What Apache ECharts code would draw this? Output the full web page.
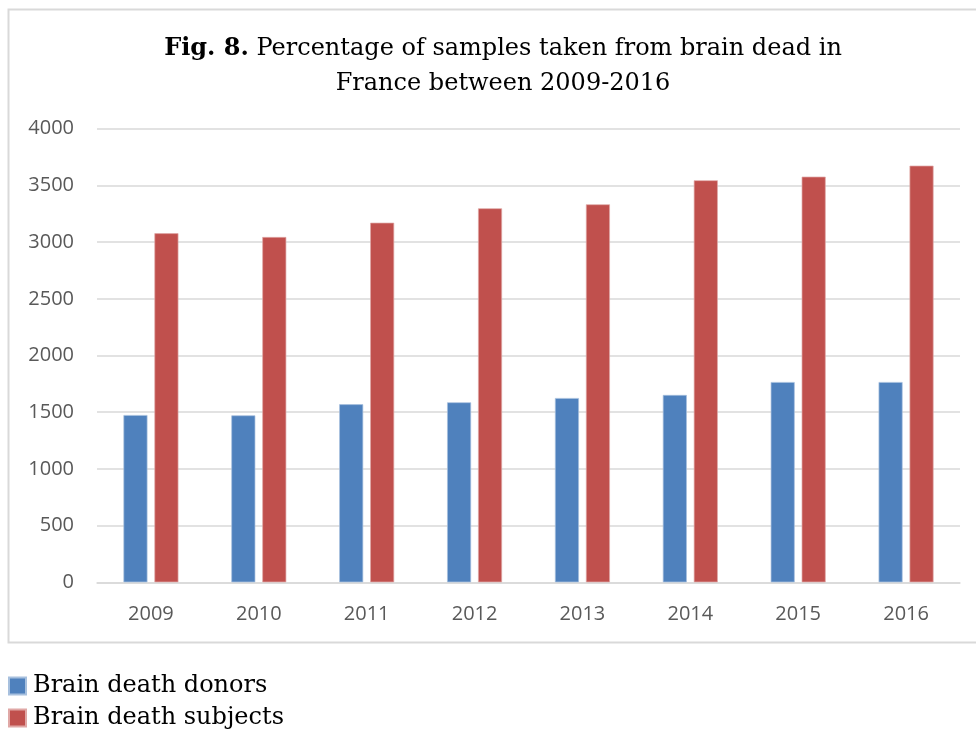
<!DOCTYPE html>
<html>
<head>
<meta charset="utf-8">
<script src="https://cdn.jsdelivr.net/npm/echarts@6/dist/echarts.min.js"></script>
<style>
html,body{margin:0;padding:0;background:#fff;}
#c{width:976px;height:733px;}
</style>
</head>
<body>
<div id="c"></div>
<script>
var categories = ['2009','2010','2011','2012','2013','2014','2015','2016'];
var donors = [1475, 1472, 1570, 1587, 1625, 1652, 1766, 1766];
var subjects = [3078, 3045, 3171, 3298, 3333, 3545, 3577, 3674];
var yTicks = {min: 0, max: 4000, interval: 500};
var seriesNames = ['Brain death donors', 'Brain death subjects'];

var legendText = {fontFamily: 'DejaVu Serif', fontSize: 24, color: '#000', padding: [0,0,0,2]};
var chart = echarts.init(document.getElementById('c'));
chart.setOption({
  animation: false,
  backgroundColor: '#fff',
  graphic: [{
    type: 'rect',
    shape: {x: 8.5, y: 9.5, width: 980, height: 633},
    style: {fill: 'none', stroke: '#d9d9d9', lineWidth: 2},
    silent: true
  }],
  title: {
    text: '{b|Fig. 8.} Percentage of samples taken from brain dead in\nFrance between 2009-2016',
    left: 498,
    textAlign: 'center',
    top: 26,
    textStyle: {
      fontFamily: 'DejaVu Serif',
      fontSize: 24,
      fontWeight: 'normal',
      color: '#000',
      lineHeight: 35,
      rich: {
        b: {fontFamily: 'DejaVu Serif', fontSize: 24, fontWeight: 'bold', color: '#000', lineHeight: 35}
      }
    }
  },
  legend: [
    {left: 8, top: 674, padding: 0, itemWidth: 17, itemHeight: 17, icon: 'rect', textStyle: legendText, data: [seriesNames[0]]},
    {left: 8, top: 706, padding: 0, itemWidth: 17, itemHeight: 17, icon: 'rect', textStyle: legendText, data: [seriesNames[1]]}
  ],
  grid: {left: 97, right: 16, top: 128.7, bottom: 150.7, containLabel: false},
  xAxis: {
    type: 'category',
    data: categories,
    axisLine: {lineStyle: {color: '#d9d9d9', width: 1.5}},
    axisTick: {show: false},
    axisLabel: {color: '#595959', fontFamily: 'Open Sans', fontSize: 20, margin: 22}
  },
  yAxis: {
    type: 'value',
    min: yTicks.min,
    max: yTicks.max,
    interval: yTicks.interval,
    axisLine: {show: false},
    axisTick: {show: false},
    splitLine: {lineStyle: {color: '#d9d9d9', width: 1.5}},
    axisLabel: {color: '#595959', fontFamily: 'Open Sans', fontSize: 20, margin: 23,
      formatter: function (v) { return String(v); }}
  },
  series: [
    {
      name: seriesNames[0], type: 'bar', data: donors,
      barWidth: 24, barGap: '29%',
      itemStyle: {color: '#4f81bd', borderColor: '#a7c0de', borderWidth: 0.7}
    },
    {
      name: seriesNames[1], type: 'bar', data: subjects,
      barWidth: 24, barGap: '29%',
      itemStyle: {color: '#c0504d', borderColor: '#e0a8a6', borderWidth: 0.7}
    }
  ]
});
</script>
</body>
</html>
